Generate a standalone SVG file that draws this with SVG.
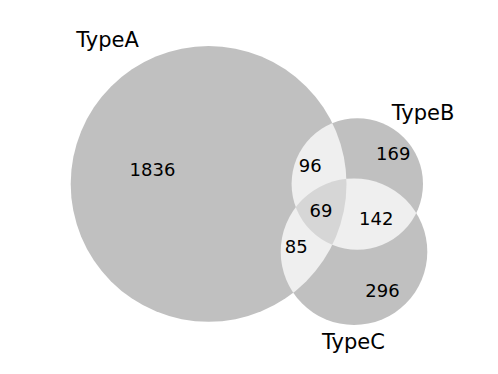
<svg xmlns="http://www.w3.org/2000/svg" width="498" height="374" viewBox="0 0 498 374">
<style>
.s{fill:#c0c0c0}
.p{fill:#efefef}
.t{fill:#d6d6d6}
text{font-family:"DejaVu Sans",sans-serif;fill:#000;text-anchor:middle}
.n{font-size:18px}
.l{font-size:21px}
</style>
<defs>
<clipPath id="cA"><circle cx="208.6" cy="183.9" r="137.9"/></clipPath>
<clipPath id="cB"><circle cx="357.3" cy="184" r="65.7"/></clipPath>
<clipPath id="cC"><circle cx="354" cy="251.7" r="73.3"/></clipPath>
</defs>
<rect width="498" height="374" fill="#fff"/>
<g id="sets">
<circle id="A" class="s" cx="208.6" cy="183.9" r="137.9"/>
<circle id="B" class="s" cx="357.3" cy="184" r="65.7"/>
<circle id="C" class="s" cx="354" cy="251.7" r="73.3"/>
<g clip-path="url(#cA)"><circle class="p" cx="357.3" cy="184" r="65.7"/><circle class="p" cx="354" cy="251.7" r="73.3"/></g>
<g clip-path="url(#cB)"><circle class="p" cx="354" cy="251.7" r="73.3"/></g>
<g clip-path="url(#cA)"><g clip-path="url(#cB)"><circle class="t" cx="354" cy="251.7" r="73.3"/></g></g>
</g>
<g id="counts" class="n">
<text class="n" x="152.5" y="175.7">1836</text>
<text class="n" x="310.3" y="171.7">96</text>
<text class="n" x="321" y="216.7">69</text>
<text class="n" x="296.2" y="253.3">85</text>
<text class="n" x="393.3" y="160">169</text>
<text class="n" x="376.3" y="225">142</text>
<text class="n" x="382.5" y="296.7">296</text>
</g>
<g id="labels">
<text class="l" x="107.5" y="47">TypeA</text>
<text class="l" x="423" y="120">TypeB</text>
<text class="l" x="353.5" y="349">TypeC</text>
</g>
</svg>
